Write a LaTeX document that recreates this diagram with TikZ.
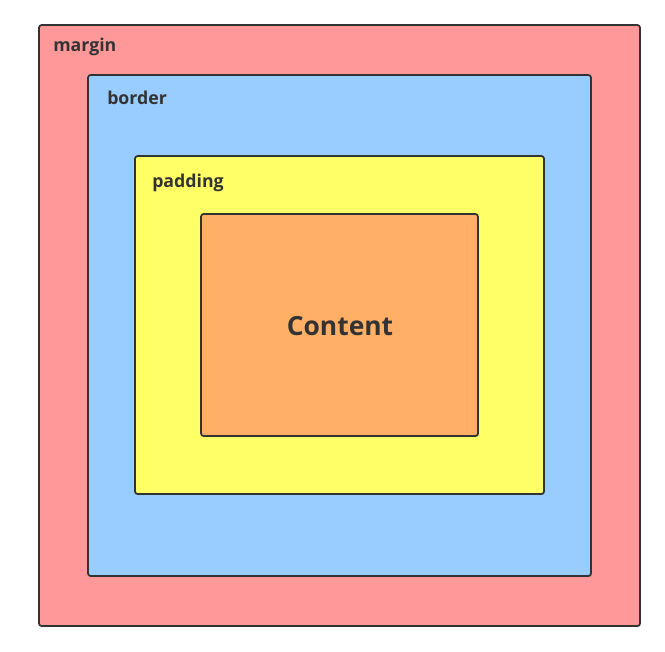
\documentclass[tikz,border=0pt]{standalone}
\usepackage{fontspec}
\setmainfont{Open Sans}
\usetikzlibrary{fit,shadows}
\definecolor{marginc}{HTML}{FF9999}
\definecolor{borderc}{HTML}{99CCFF}
\definecolor{paddingc}{HTML}{FFFF66}
\definecolor{contentc}{HTML}{FFB066}
\definecolor{linec}{HTML}{333333}
\tikzset{
  layer/.style={draw=linec, line width=1.3pt, rounded corners=2pt, inner sep=0pt,
    drop shadow={shadow xshift=0.8pt, shadow yshift=-0.8pt, opacity=0.25}},
  lbl/.style={text=linec, font=\bfseries\fontsize{13.3}{15}\selectfont, anchor=west, inner sep=0pt},
}
\begin{document}
\begin{tikzpicture}[x=0.75pt, y=-0.75pt]
\useasboundingbox (0,0) rectangle (665,651);
\node[layer, fill=marginc, fit={(39,25) (640,626)}] (margin) {};
\node[layer, fill=borderc, fit={(88,75) (591,576)}] (border) {};
\node[layer, fill=paddingc, fit={(135,156) (544,494)}] (padding) {};
\node[layer, fill=contentc, fit={(201,214) (478,436)}] (content) {};
\node[lbl] (marginlbl) at (53,47) {margin};
\node[lbl] (borderlbl) at (107,97.5) {border};
\node[lbl] (paddinglbl) at (152,182.5) {padding};
\node[text=linec, font=\bfseries\fontsize{19.8}{22}\selectfont, inner sep=0pt] (contentlbl) at (340,326) {Content};
\end{tikzpicture}
\end{document}
